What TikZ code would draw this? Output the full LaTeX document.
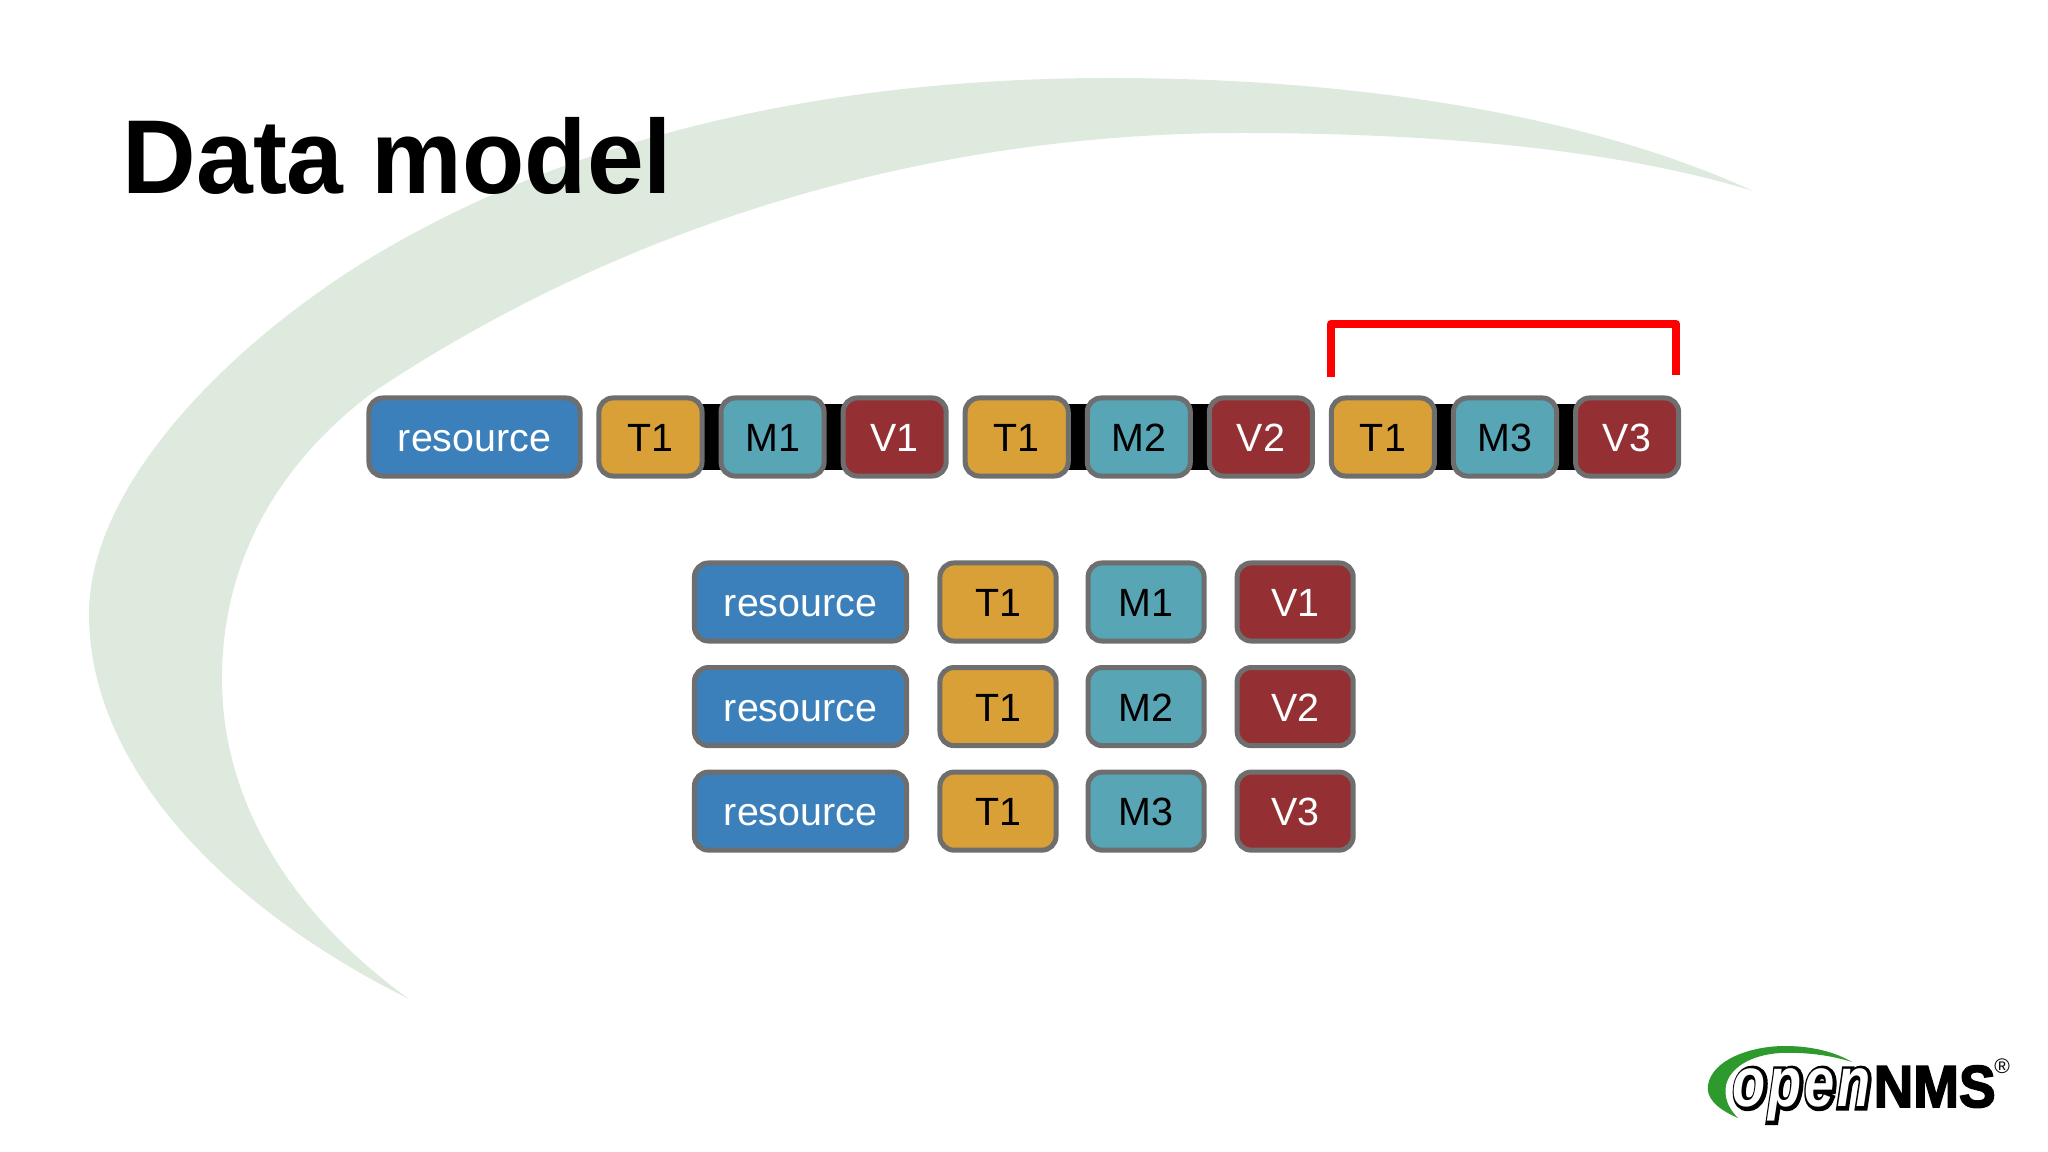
\documentclass[tikz,border=0pt]{standalone}
\usepackage{fontspec}
\setmainfont{Liberation Sans}
\newfontfamily\logofont[FakeBold=10,LetterSpace=5]{Liberation Sans}
\newfontfamily\logofrontfont[LetterSpace=5]{Liberation Sans}
\newfontfamily\nmsfont[FakeBold=3]{Liberation Sans}
\usetikzlibrary{backgrounds}
\definecolor{swooshgreen}{HTML}{DFEADF}
\definecolor{logogreen}{HTML}{2E9A2E}
\definecolor{resblue}{HTML}{3C80BB}
\definecolor{timeorange}{HTML}{D9A037}
\definecolor{metricteal}{HTML}{57A5B5}
\definecolor{valuered}{HTML}{943034}
\definecolor{boxgrey}{HTML}{6E6E6E}
\tikzset{
    cell/.style={draw=boxgrey, line width=0.5mm, rounded corners=0.14cm, inner sep=0pt,
        minimum height=0.78cm, text height=0.29cm, text depth=0pt, font=\fontsize{11.2}{13}\selectfont},
    rescell/.style={cell, fill=resblue, text=white, minimum width=2.11cm},
    tcell/.style={cell, fill=timeorange, text=black, minimum width=1.03cm},
    mcell/.style={cell, fill=metricteal, text=black, minimum width=1.03cm},
    vcell/.style={cell, fill=valuered, text=white, minimum width=1.03cm},
    widecell/.style={minimum width=1.16cm},
    barlink/.style={draw=black, line width=0.65cm},
    bracket/.style={draw=red, line width=0.85mm, line join=round},
}
\begin{document}
\begin{tikzpicture}[x=0.01cm, y=-0.01cm]
    \useasboundingbox (0,0) rectangle (2048,1152);
    \fill[swooshgreen] (409,999) .. controls (230,910) and (89,770) .. (89,614)
        .. controls (89,490) and (220,350) .. (372,257)
        .. controls (600,120) and (870,78) .. (1110,78)
        .. controls (1390,78) and (1610,125) .. (1753,191)
        .. controls (1620,150) and (1440,133) .. (1241,133)
        .. controls (900,133) and (600,240) .. (372,393)
        .. controls (270,470) and (222,570) .. (222,679)
        .. controls (222,810) and (300,920) .. (409,999) -- cycle;
    \node[anchor=base west, inner sep=0pt, yscale=1.03, font=\fontsize{29}{31}\selectfont\bfseries] (title) at (122,194) {Data model};

    % long row
    \node[rescell] (res) at (474.5,437) {resource};
    \node[tcell] (ta) at (650.5,437) {T1};
    \node[mcell, right of=ta, node distance=1.22cm] (ma) {M1};
    \node[vcell, right of=ma, node distance=1.22cm] (va) {V1};
    \node[tcell, right of=va, node distance=1.22cm] (tb) {T1};
    \node[mcell, right of=tb, node distance=1.22cm] (mb) {M2};
    \node[vcell, right of=mb, node distance=1.22cm] (vb) {V2};
    \node[tcell, right of=vb, node distance=1.22cm] (tc) {T1};
    \node[mcell, right of=tc, node distance=1.22cm] (mc) {M3};
    \node[vcell, right of=mc, node distance=1.22cm] (vc) {V3};

    \begin{pgfonlayer}{background}
        \draw[barlink] (ta.center) -- (ma.center);
        \draw[barlink] (ma.center) -- (va.center);
        \draw[barlink] (tb.center) -- (mb.center);
        \draw[barlink] (mb.center) -- (vb.center);
        \draw[barlink] (tc.center) -- (mc.center);
        \draw[barlink] (mc.center) -- (vc.center);
    \end{pgfonlayer}

    % bracket
    \coordinate (bl) at (1331,377);
    \coordinate (br) at (1676,375);
    \coordinate (blt) at (1331,324);
    \coordinate (brt) at (1676,324);
    \draw[bracket] (bl) -- (blt) -- (brt) -- (br);

    % rows
    \node[rescell, minimum width=2.12cm] (resa) at (800.5,602) {resource};
    \node[rescell, minimum width=2.12cm, below of=resa, node distance=1.045cm] (resb) {resource};
    \node[rescell, minimum width=2.12cm, below of=resb, node distance=1.045cm] (resd) {resource};
    \node[tcell, widecell] (rta) at (998,602) {T1};
    \node[tcell, widecell, below of=rta, node distance=1.045cm] (rtb) {T1};
    \node[tcell, widecell, below of=rtb, node distance=1.045cm] (rtc) {T1};
    \node[mcell, widecell, right of=rta, node distance=1.48cm] (rma) {M1};
    \node[mcell, widecell, right of=rtb, node distance=1.48cm] (rmb) {M2};
    \node[mcell, widecell, right of=rtc, node distance=1.48cm] (rmc) {M3};
    \node[vcell, widecell, right of=rma, node distance=1.49cm] (rva) {V1};
    \node[vcell, widecell, right of=rmb, node distance=1.49cm] (rvb) {V2};
    \node[vcell, widecell, right of=rmc, node distance=1.49cm] (rvc) {V3};

    % logo
    \fill[logogreen] (1738,1118) .. controls (1715,1108) and (1706,1097) .. (1708,1085)
        .. controls (1712,1060) and (1750,1046) .. (1785,1046)
        .. controls (1812,1046) and (1835,1052) .. (1852,1062)
        .. controls (1830,1055) and (1805,1052) .. (1780,1053)
        .. controls (1750,1055) and (1730,1068) .. (1726,1085)
        .. controls (1724,1098) and (1728,1108) .. (1738,1118) -- cycle;
    \node[anchor=base west, inner sep=0pt, text=black, yscale=1.3, font=\logofont\fontsize{15.4}{18}\selectfont\bfseries\itshape] (openback) at (1733,1107) {open};
    \node[anchor=base west, inner sep=0pt, text=white, yscale=1.3, font=\logofrontfont\fontsize{15.4}{18}\selectfont\bfseries\itshape] (openfront) at (1732,1106) {open};
    \node[anchor=base west, inner sep=0pt, text=black, yscale=1.08, font=\nmsfont\fontsize{15.6}{18}\selectfont\bfseries] (nms) at (1873,1107) {NMS};
    \node[inner sep=0pt, text=black, font=\fontsize{6}{7}\selectfont] (regmark) at (2002,1066) {\textregistered};
\end{tikzpicture}
\end{document}
